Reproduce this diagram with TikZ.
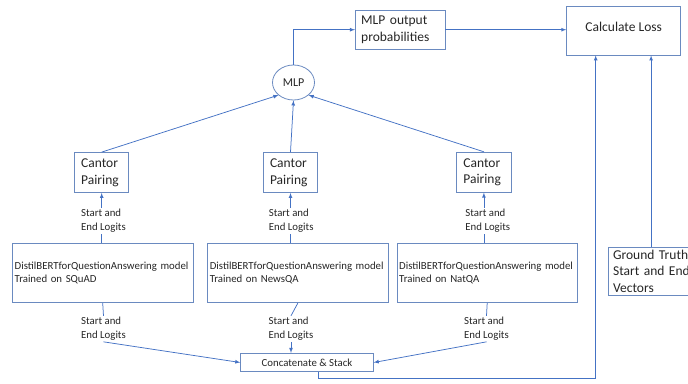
\documentclass[tikz,border=0pt]{standalone}
\usepackage{fontspec}
\setmainfont{Carlito}
\usepackage{tikz}
\usetikzlibrary{arrows,calc,positioning,shapes.geometric}
\definecolor{lineblue}{HTML}{4472C4}
\definecolor{boxblue}{HTML}{6A8AC0}
\tikzset{bigtext/.style={font=\fontsize{13.5}{16.6}\selectfont},smalltext/.style={font=\fontsize{10.8}{13.3}\selectfont}}

\begin{document}
\begin{tikzpicture}[x=1pt, y=-1pt, text=black!85]

\tikzset{box/.style={draw=boxblue,line width=.8pt,inner sep=0pt,align=left},
conn/.style={lineblue,line width=.75pt},arr/.style={conn,-latex},
lbl/.style={smalltext,align=left,inner sep=1.5pt}}

\path[use as bounding box,clip] (0,0) rectangle (688,383);

% Top row
\node[box,shape=ellipse,minimum width=42pt,minimum height=35pt,font=\fontsize{12}{14}\selectfont] (mlp) at (293.5,82.5) {MLP};
\node[box,bigtext,minimum width=89.7pt,minimum height=39.3pt,text width=78pt] (mlpout) at (400.2,29.7) {MLP output\\probabilities};
\node[box,bigtext,minimum width=114pt,minimum height=49pt,align=center,text depth=8pt] (loss) at (623.7,30.5) {Calculate Loss};

% Cantor pairing
\node[box,bigtext,minimum width=54pt,minimum height=40pt,text width=41pt] (c1) at (101.7,172.5) {Cantor\\Pairing};
\node[box,bigtext,minimum width=54pt,minimum height=40pt,text width=41pt] (c2) at (290.5,172.5) {Cantor\\Pairing};
\node[box,bigtext,minimum width=55pt,minimum height=40pt,text width=41pt] (c3) at (483.9,172.2) {Cantor\\Pairing};

% Models
\node[box,smalltext,minimum width=180.5pt,minimum height=59.5pt,text width=176pt,inner xsep=2.25pt] (m1) at (102.7,273) {DistilBERTforQuestionAnswering model\\Trained on SQuAD};
\node[box,smalltext,minimum width=180.5pt,minimum height=59.5pt,text width=176pt,inner xsep=2.25pt] (m2) at (297.8,273) {DistilBERTforQuestionAnswering model\\Trained on NewsQA};
\node[box,smalltext,minimum width=180.5pt,minimum height=59.5pt,text width=176pt,inner xsep=2.25pt] (m3) at (487.2,273) {DistilBERTforQuestionAnswering model\\Trained on NatQA};

% Logit labels
\node[lbl] (u1) at (103.5,220.7) {Start and\\End Logits};
\node[lbl] (u2) at (291.2,220.7) {Start and\\End Logits};
\node[lbl] (u3) at (487.8,220.7) {Start and\\End Logits};
\node[lbl] (d1) at (103.5,328.8) {Start and\\End Logits};
\node[lbl] (d2) at (291,328.8) {Start and\\End Logits};
\node[lbl] (d3) at (486.5,328.8) {Start and\\End Logits};

\node[box,smalltext,minimum width=132.6pt,minimum height=18.4pt,align=center] (cat) at (307,362.5) {Concatenate \& Stack};
\node[box,bigtext,anchor=north west,minimum width=84pt,minimum height=48.3pt,text width=82pt,inner xsep=5pt,inner ysep=0pt] (gt) at (607.7,246.5) {Ground Truth\\Start and End\\Vectors};

% Connectors
\foreach \i in {1,2,3} {
  \draw[conn] (c\i.south |- m\i.north) -- (c\i.south |- u\i.south);
  \draw[arr] (c\i.south |- u\i.north) -- (c\i.south);
  \draw[conn] (m\i.south) -- (d\i.north);
}
\draw[arr] (d1.south) -- (cat.west);
\draw[arr] (d2.south) -- (d2.south |- cat.north);
\draw[arr] (d3.south) -- (cat.east);

\draw[arr] (c1.north) -- (mlp.south west);
\draw[arr] (c2.north) -- (mlp.south);
\draw[arr] (c3.north) -- (mlp.south east);
\draw[arr] (mlp.north) |- (mlpout.west);
\draw[arr] (mlpout.east) -- (mlpout.east -| loss.west);
\draw[arr] ([xshift=11pt]cat.south) -- ++(0,6) -| ($(loss.south)+(-28,0)$);
\draw[arr] ([xshift=-3pt]gt.north) -- ([xshift=-3pt]gt.north |- loss.south);

\end{tikzpicture}
\end{document}
